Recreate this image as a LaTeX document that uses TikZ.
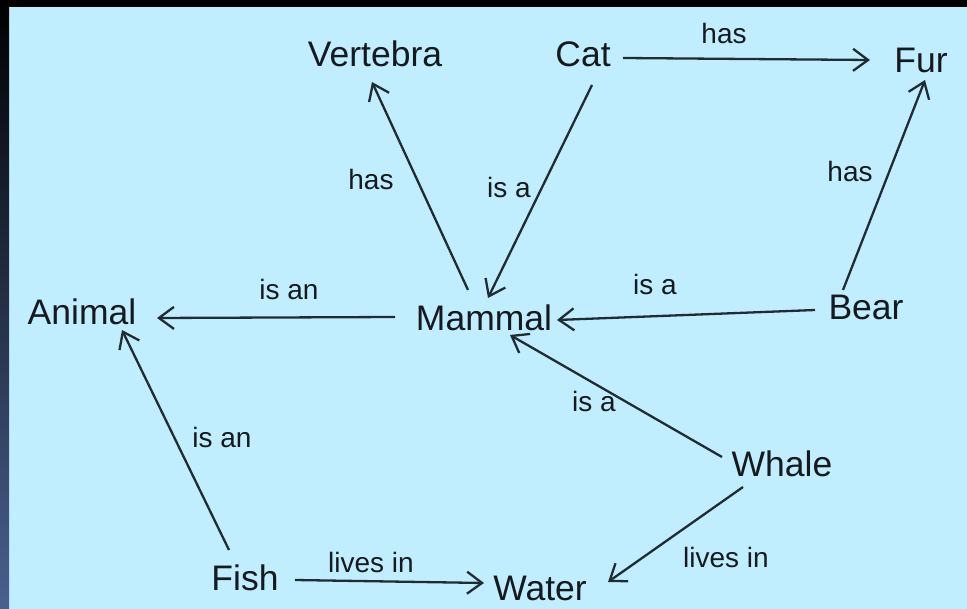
\documentclass[tikz,border=0pt]{standalone}
\usepackage{fontspec}
\setmainfont{Liberation Sans}
\usetikzlibrary{arrows.meta,calc}
\definecolor{bgc}{RGB}{193,238,255}
\definecolor{linec}{RGB}{32,44,52}
\definecolor{txtc}{RGB}{22,26,30}
\definecolor{sidec}{RGB}{74,96,142}
\begin{document}
\begin{tikzpicture}[x=1pt,y=-1pt,
  concept/.style={anchor=base,inner sep=0pt,text=txtc,font=\fontsize{35.5}{40}\selectfont},
  elabel/.style={anchor=base,inner sep=0pt,text=txtc,font=\fontsize{28}{32}\selectfont},
  conn/.style={draw=linec,line width=2.3pt,-{Straight Barb[length=15pt,width=22pt]}}]
\useasboundingbox (0,0) rectangle (967,609);
\fill[bgc] (0,0) rectangle (967,609);
\fill[black] (0,0) rectangle (967,7);
\shade[top color=black,bottom color=sidec] (0,0) rectangle (9,609);
% concepts
\node[concept] (vertebra) at (375,67) {Vertebra};
\node[concept] (cat) at (583,67) {Cat};
\node[concept] (fur) at (921,73) {Fur};
\node[concept] (animal) at (82,325) {Animal};
\node[concept] (mammal) at (484,331) {Mammal};
\node[concept] (bear) at (866,320) {Bear};
\node[concept] (whale) at (782,477) {Whale};
\node[concept] (fish) at (245,590) {Fish};
\node[concept] (water) at (540,600) {Water};
% connectors
\draw[conn] ($(cat.base)+(40,-9)$) -- ($(fur.base)+(-51,-13)$);
\draw[conn] ($(mammal.base)+(-16,-41)$) -- ($(vertebra.base)+(-3,15)$);
\draw[conn] ($(cat.base)+(9,18)$) -- ($(mammal.base)+(4,-33)$);
\draw[conn] ($(bear.base)+(-23,-30)$) -- ($(fur.base)+(4,7)$);
\draw[conn] ($(mammal.base)+(-89,-14)$) -- ($(animal.base)+(75,-7)$);
\draw[conn] ($(bear.base)+(-51,-10)$) -- ($(mammal.base)+(73,-11)$);
\draw[conn] ($(whale.base)+(-60,-20)$) -- ($(mammal.base)+(26,4)$);
\draw[conn] ($(fish.base)+(-16,-40)$) -- ($(animal.base)+(40,5)$);
\draw[conn] ($(fish.base)+(50,-10)$) -- ($(water.base)+(-56,-17)$);
\draw[conn] ($(whale.base)+(-39,10)$) -- ($(water.base)+(68,-18)$);
% labels
\node[elabel] (l1) at (724,44) {has};
\node[elabel] (l2) at (371,190) {has};
\node[elabel] (l3) at (509,198) {is a};
\node[elabel] (l4) at (850,182) {has};
\node[elabel] (l5) at (289,300) {is an};
\node[elabel] (l6) at (655,295) {is a};
\node[elabel] (l7) at (594,412) {is a};
\node[elabel] (l8) at (222,448) {is an};
\node[elabel] (l9) at (371,572) {lives in};
\node[elabel] (l10) at (726,567) {lives in};
\end{tikzpicture}
\end{document}
